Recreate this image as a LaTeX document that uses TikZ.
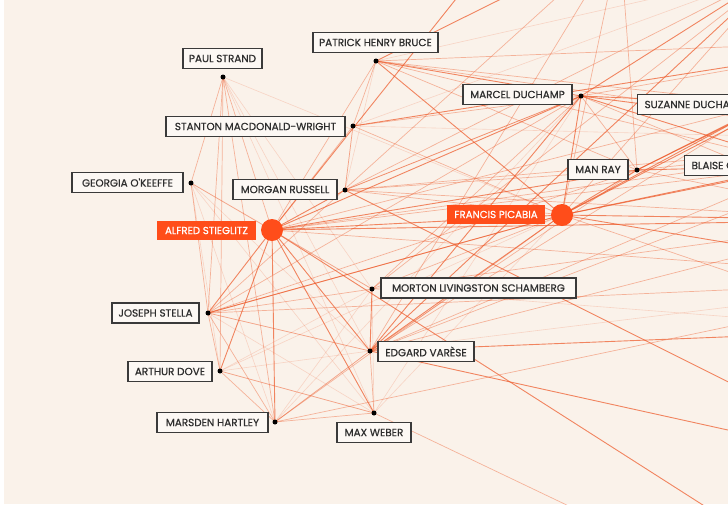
\documentclass[tikz,border=0pt]{standalone}
\usepackage{fontspec}
\newfontfamily\lblfont{Poppins}[FakeBold=0.7]
\definecolor{bgc}{HTML}{FAF2EA}
\definecolor{edgec}{HTML}{EE5A2A}
\definecolor{hub}{HTML}{FF4D1A}
\definecolor{boxline}{HTML}{3A3A3A}
\definecolor{boxfill}{HTML}{FCF8F4}
\definecolor{txt}{HTML}{2E2E2E}
\tikzset{
  es/.style={draw=edgec, draw opacity=.72, line width=.9pt},
  em/.style={draw=edgec, draw opacity=.42, line width=.7pt},
  el/.style={draw=edgec, draw opacity=.2, line width=.6pt},
  lbl/.style={draw=boxline, fill=boxfill, line width=1.2pt, inner sep=0pt,
     minimum height=20pt, text=txt, font=\lblfont\fontsize{10.4}{12}\selectfont},
  hlbl/.style={fill=hub, inner sep=0pt, minimum height=19pt, text=white,
     font=\lblfont\fontsize{10.2}{12}\selectfont},
  dotn/.style={circle, fill=black, inner sep=0pt, minimum size=5pt},
  hubn/.style={circle, fill=hub, inner sep=0pt, minimum size=22pt},
}
\begin{document}
\begin{tikzpicture}[x=1pt, y=-1pt]
\useasboundingbox (0,0) rectangle (728,507);
\fill[white] (0,0) rectangle (728,507);
\fill[bgc] (4,0) rectangle (728,504);
% node positions
\coordinate (ps) at (223,77);
\coordinate (phb) at (376,61);
\coordinate (smw) at (353,126);
\coordinate (gok) at (191,183);
\coordinate (mr) at (345,190);
\coordinate (as) at (272,230);
\coordinate (fp) at (562,215);
\coordinate (md) at (581,96);
\coordinate (sd) at (768,104);
\coordinate (ray) at (637,170);
\coordinate (bc) at (805,166);
\coordinate (mls) at (372,289);
\coordinate (ev) at (370,351);
\coordinate (js) at (208,313);
\coordinate (ad) at (220,371);
\coordinate (mh) at (275,422);
\coordinate (mw) at (374,413);
% off-frame nodes
\coordinate (o1) at (487,-40);
\coordinate (o2) at (620,-60);
\coordinate (o3) at (780,-30);
\coordinate (o4) at (900,40);
\coordinate (o5) at (920,140);
\coordinate (o6) at (880,220);
\coordinate (o7) at (950,280);
\coordinate (o8) at (900,330);
\coordinate (o9) at (900,468);
\coordinate (o10) at (800,567);
\coordinate (o11) at (640,540);
\begin{scope}
\clip (4,0) rectangle (728,504);
\foreach \a/\b in {ps/mw, ps/ev, ps/mls, ps/fp,
  gok/ad, gok/mh, gok/mw, gok/ev, gok/mls,
  ad/mw, ad/ev, ad/mls, mh/ev, mh/mls, mw/mls, mw/fp, js/mw, js/ev,
  mls/o8, ev/o7, phb/mr, phb/o3, smw/mr, smw/o5, smw/o3,
  ad/fp, mw/md, mh/md}
  \path[el] (\a) -- (\b);
\foreach \a/\b in {as/ps, as/gok, as/mls, as/smw, as/phb, as/sd, as/bc, as/o5, as/o7,
  fp/mr, fp/smw, fp/mls, fp/js, fp/mh, fp/o2, fp/o3, fp/o8,
  md/smw, md/mr, md/ray, md/o4, md/o6, md/mls,
  ray/o5, ray/o6, ray/ev, ray/o2,
  ev/sd, ev/bc, ev/o5, ev/o6, ev/mw, ev/mh, ev/js,
  mls/o6, mls/js, mw/o11, mw/mh, mw/ad, mh/ad, mh/js, mh/o7,
  js/ad, js/gok, js/md, js/ray, js/o7,
  ps/gok, ps/js, ps/ad, ps/mh,
  phb/smw, phb/sd, phb/o4, phb/o5, phb/bc, phb/ray,
  mr/md, mr/o5, mr/o6, mr/smw, mr/ray,
  js/o2, mr/o3, mls/o3, ev/o2}
  \path[em] (\a) -- (\b);
\foreach \a/\b in {as/fp, as/o1, as/mw, as/ev, as/mr, as/md, as/ray, as/o6, as/o10,
  as/js, as/ad, as/mh,
  fp/md, fp/ray, fp/sd, fp/bc, fp/o5, fp/o6, fp/o7, fp/ev, fp/phb, fp/o4,
  md/phb, md/o3, md/sd, md/bc, md/o5, md/ev,
  ray/o4, ray/bc, ray/sd, ev/o8, ev/o9, ev/mls, mr/o9, phb/o2, smw/o4, js/fp, ev/o3}
  \path[es] (\a) -- (\b);
\end{scope}
% dots
\foreach \n in {ps, phb, smw, gok, mr, md, ray, mls, ev, js, ad, mh, mw}
  \node[dotn] (d\n) at (\n) {};
\node[hubn] (das) at (as) {};
\node[hubn] (dfp) at (fp) {};
% labels
\node[lbl, minimum width=79pt] (lps) at (222.5,58.5) {PAUL STRAND};
\node[lbl, minimum width=125pt] (lphb) at (375.5,42.5) {PATRICK HENRY BRUCE};
\node[lbl, minimum width=179pt] (lsmw) at (255.5,126.5) {STANTON MACDONALD-WRIGHT};
\node[lbl, minimum width=111pt] (lgok) at (127.5,182.5) {GEORGIA O'KEEFFE};
\node[lbl, minimum width=104pt] (lmr) at (285,189.5) {MORGAN RUSSELL};
\node[hlbl, minimum width=99pt] (las) at (206.5,230.5) {ALFRED STIEGLITZ};
\node[hlbl, minimum width=98pt] (lfp) at (496,214.5) {FRANCIS PICABIA};
\node[lbl, minimum width=109pt] (lmd) at (517.5,94.5) {MARCEL DUCHAMP};
\node[lbl, anchor=west, inner xsep=7pt] (lsd) at (637,104.5) {SUZANNE DUCHAMP};
\node[lbl, minimum width=60pt] (lray) at (598,169.5) {MAN RAY};
\node[lbl, anchor=west, inner xsep=7pt] (lbc) at (684,165.5) {BLAISE CENDRARS};
\node[lbl, minimum width=195pt] (lmls) at (478.5,288) {MORTON LIVINGSTON SCHAMBERG};
\node[lbl, minimum width=96pt] (lev) at (426,351.5) {EDGARD VAR\`ESE};
\node[lbl, minimum width=87pt] (ljs) at (155.5,313) {JOSEPH STELLA};
\node[lbl, minimum width=84pt] (lad) at (170,371.5) {ARTHUR DOVE};
\node[lbl, minimum width=111pt] (lmh) at (212.5,422.5) {MARSDEN HARTLEY};
\node[lbl, minimum width=74pt] (lmw) at (374,432.5) {MAX WEBER};
\end{tikzpicture}
\end{document}
